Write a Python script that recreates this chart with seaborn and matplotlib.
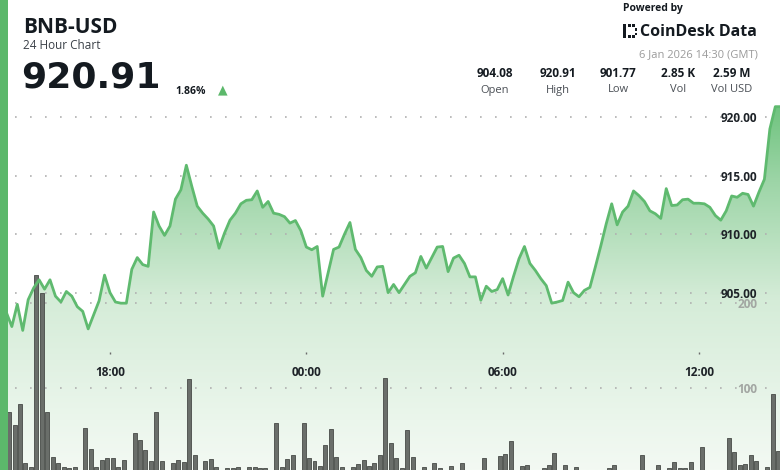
import numpy as np
import pandas as pd
import matplotlib
matplotlib.use("Agg")
import matplotlib.pyplot as plt
import matplotlib.dates as mdates
from matplotlib.colors import LinearSegmentedColormap
from matplotlib.patches import Rectangle
import seaborn as sns

# BNB-USD, 10 minute steps from 5 Jan 2026 14:30 to 6 Jan 2026 14:30 (GMT)
price = [904.08, 903.9, 903.3, 902.1, 904.0, 901.77, 904.4, 905.4, 906.1, 905.3,
         906.1, 904.7, 904.2, 905.1, 904.7, 903.8, 903.4, 901.9, 903.1, 904.3,
         906.5, 905.0, 904.2, 904.1, 904.1, 907.0, 908.0, 907.4, 907.25, 911.9,
         910.7, 909.9, 910.7, 913.0, 913.8, 915.9, 914.1, 912.4, 911.8, 911.3,
         910.7, 908.8, 910.1, 911.2, 911.8, 912.6, 912.9, 912.95, 913.7, 912.3,
         912.8, 911.8, 911.7, 911.5, 910.95, 911.17, 910.3, 908.9, 908.67, 908.95,
         904.7, 906.7, 908.7, 908.9, 910.0, 911.0, 908.7, 908.0, 906.9, 906.4,
         907.2, 907.25, 905.0, 905.7, 905.0, 905.7, 906.4, 906.7, 908.1, 907.1,
         908.0, 908.9, 908.95, 906.8, 907.96, 908.2, 907.5, 906.35, 906.35, 904.35,
         905.55, 905.1, 905.26, 906.2, 904.8, 906.4, 907.9, 908.95, 907.5, 906.9,
         906.2, 905.6, 904.1, 904.2, 904.33, 905.9, 905.0, 904.65, 905.2, 905.45,
         907.2, 909.0, 910.9, 912.6, 910.8, 911.9, 912.4, 913.7, 913.3, 912.8,
         912.0, 911.75, 911.35, 913.9, 912.45, 912.5, 912.95, 913.0, 912.65, 912.65,
         912.6, 912.3, 911.6, 911.2, 912.0, 913.27, 913.16, 913.5, 913.4, 912.4,
         913.6, 914.7, 919.0, 920.91, 920.91]

# volume of each 10 minute interval
volume = [45, 60, 72.6, 56.8, 81.9, 12.4, 8.5, 233, 212, 72.6,
          19.3, 12.4, 8.5, 7, 8.5, 3, 53.3, 29, 8.5, 16.2,
          18.5, 18.5, 8.5, 16.6, 3, 47.5, 39.4, 27.8, 15.4, 72.6,
          14.7, 3, 12.7, 16.2, 13.5, 110.9, 22, 3, 14.7, 17.4,
          8.5, 3, 7, 7, 7.7, 3, 7.7, 7.7, 7, 7,
          3, 59.9, 8.5, 17.4, 22, 5, 59.9, 18.2, 14.7, 9.7,
          33.6, 52.9, 19.3, 8.5, 4, 8.5, 11.6, 16.2, 8.9, 12.7,
          22.4, 112, 35.9, 18.2, 7.3, 51, 19.3, 3, 7.7, 3,
          12.4, 7, 3, 9.7, 3, 12.4, 3, 3, 3, 18.2,
          3, 3, 21.2, 23.2, 38.6, 3, 9.7, 10.8, 3, 3,
          7, 10.8, 24.3, 3, 10.4, 3, 7.7, 3, 3, 3,
          3, 3, 7, 10.8, 3, 3, 3, 3, 22, 3,
          3, 10.8, 3, 7, 14.3, 7, 7, 14.3, 3, 31,
          3, 3, 3, 3, 41.5, 25.9, 10, 11.2, 22, 15.4,
          3, 8.5, 93.9, 27]

price_ticks = [905, 910, 915, 920]
volume_ticks = [100, 200]
stat_values = ["904.08", "920.91", "901.77", "2.85 K", "2.59 M"]
stat_names = ["Open", "High", "Low", "Vol", "Vol USD"]

sns.set_theme(style="white")
plt.rcParams["font.family"] = ["Open Sans", "DejaVu Sans"]

times = pd.date_range("2026-01-05 14:30", periods=len(price), freq="10min")
bar_times = times[:-1] + pd.Timedelta(minutes=5)
df = pd.DataFrame({"time": times, "price": price})
tick_times = [t for t in times if t.minute == 0 and t.hour % 6 == 0]

W, H = 780, 470
fig = plt.figure(figsize=(W / 100, H / 100), dpi=100)
ax = fig.add_axes([0, 0, 1, 370 / H])
axv = ax.twinx()
axl = ax.twinx()
ax.set_zorder(1)
axv.set_zorder(2)
axl.set_zorder(3)
axv.patch.set_visible(False)
axl.patch.set_visible(False)

# price line
sns.lineplot(data=df, x="time", y="price", ax=axl, color="#5fba6f", linewidth=2)

tn = mdates.date2num(times)
xlim = (tn[0] + 8.3 / 1440, tn[0] + 1438.6 / 1440)
plim = (889.83, 921.48)
vlim = (4.67, 436.9)

# gradient under the line
cmap = LinearSegmentedColormap.from_list(
    "fill", [(0, "#f3f9f3"), (0.135, "#ebf6ec"), (0.46, "#d5ecd8"),
             (0.78, "#9dd5a7"), (1, "#6cc27c")])
img = ax.imshow(np.linspace(0, 1, 256).reshape(-1, 1), aspect="auto", cmap=cmap,
                origin="lower", extent=[tn[0], tn[-1], plim[0], plim[1]], zorder=1)
area = ax.fill_between(tn, price, plim[0], facecolor="none", edgecolor="none")
img.set_clip_path(area.get_paths()[0], transform=ax.transData)

# volume bars
axv.bar(bar_times, volume, width=7.3 / 1440, color="#6a6e6a",
        edgecolor="#474a47", linewidth=0.6, zorder=2)

grid_kw = dict(color="#b0b0b0", linewidth=1.2, linestyle=(0, (1, 8)), zorder=2)
for v in price_ticks:
    ax.axhline(v, **grid_kw)
for v in volume_ticks:
    axv.axhline(v, **grid_kw)

for a in (ax, axv, axl):
    a.set_xlim(xlim)
    a.xaxis.set_visible(False)
    a.set_xlabel("")
    a.set_ylabel("")
    for s in a.spines.values():
        s.set_visible(False)
ax.set_ylim(plim)
axl.set_ylim(plim)
axv.set_ylim(vlim)
ax.set_yticks([])

# price labels sit on the top layer so the fill does not hide them
axl.yaxis.tick_right()
axl.set_yticks(price_ticks, labels=[f"{v:.2f}" for v in price_ticks],
               fontweight="bold", ha="right")
axl.tick_params(axis="y", length=0, pad=-16.5, labelsize=8.5, labelcolor="#1e2328")
axv.set_yticks(volume_ticks, labels=[str(v) for v in volume_ticks],
               fontweight="bold", ha="right")
axv.tick_params(axis="y", length=0, pad=-16.5, labelsize=8.5, labelcolor="#a2a6a2")

# time labels floating inside the chart
sec = axl.secondary_xaxis(118 / 370)
sec.set_xticks(mdates.date2num(tick_times),
               labels=[t.strftime("%H:%M") for t in tick_times], fontweight="bold")
sec.tick_params(axis="x", length=1.5, width=1, color="#6b6b6b", pad=8.6,
                labelsize=8.5, labelcolor="#1e2328")
for s in sec.spines.values():
    s.set_visible(False)


def fx(x):
    return x / W


def fy(y):
    return 1 - y / H


dark = "#141a20"
fig.text(fx(23), fy(33), "BNB-USD", fontsize=15, fontweight="bold", color=dark)
fig.text(fx(23), fy(49), "24 Hour Chart", fontsize=8.5, color="#3b4148")
fig.text(fx(21), fy(87.5), "920.91", fontsize=26, fontweight="bold", color=dark,
         family="DejaVu Sans")
fig.text(fx(175), fy(93.5), "1.86%", fontsize=7.5, fontweight="bold", color=dark)
fig.text(fx(223), fy(89.5), "▲", fontsize=9, ha="center", va="center", color="#5cb86b")

fig.text(fx(623), fy(11.5), "Powered by", fontsize=7.5, fontweight="bold", color=dark)
fig.text(fx(640), fy(36.5), "CoinDesk Data", fontsize=11.5, fontweight="bold", color=dark)
fig.text(fx(758), fy(57.5), "6 Jan 2026 14:30 (GMT)", fontsize=8, ha="right",
         color="#9a9a9a")
for cx, val, name in zip([495, 558, 618, 678, 732], stat_values, stat_names):
    fig.text(fx(cx), fy(77), val, fontsize=8.5, fontweight="bold", ha="center", color=dark)
    fig.text(fx(cx), fy(92.5), name, fontsize=8, ha="center", color="#4a4f55")

# logo mark
for (lx, ly, lw, lh) in [(623, 24, 3, 14), (628, 24, 2.5, 2.5), (632, 24, 2.5, 2.5),
                         (628, 35.5, 2.5, 2.5), (632, 35.5, 2.5, 2.5),
                         (635, 28.5, 2, 2), (635, 32.5, 2, 2)]:
    fig.add_artist(Rectangle((fx(lx), fy(ly + lh)), lw / W, lh / H, transform=fig.transFigure,
                             facecolor=dark, edgecolor="none", zorder=10))

# green strip at the left edge
fig.add_artist(Rectangle((0, 0), 8 / W, 1, transform=fig.transFigure,
                         facecolor="#5cb86b", edgecolor="none", zorder=10))

fig.savefig("out.png", dpi=100)
